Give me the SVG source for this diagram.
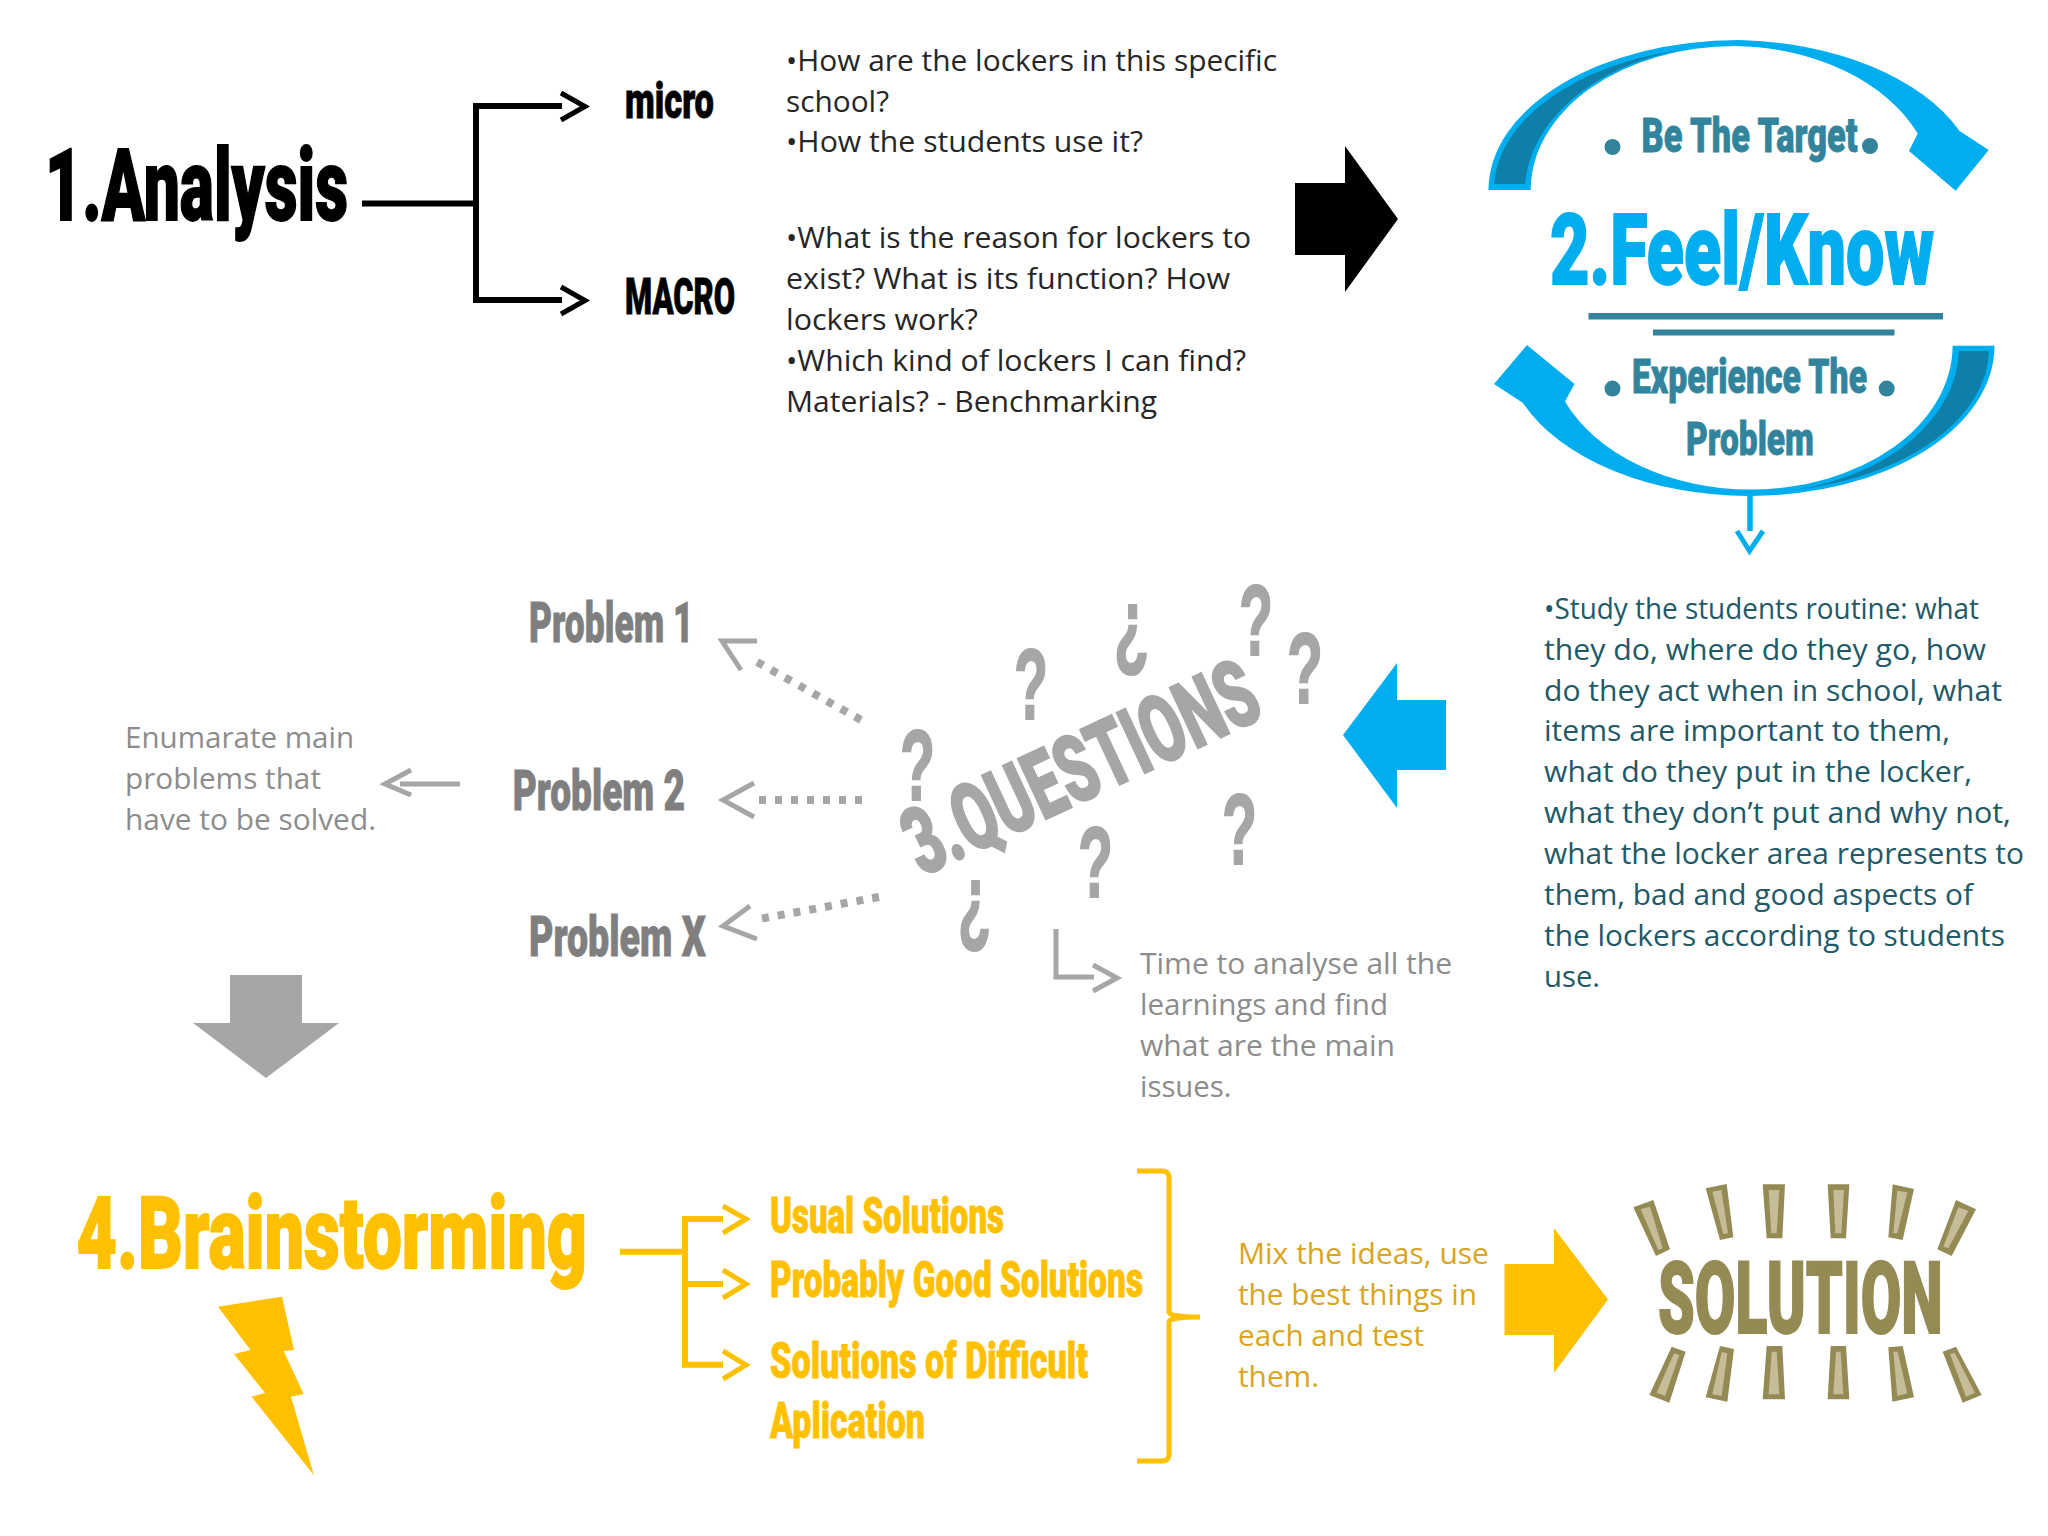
<svg xmlns="http://www.w3.org/2000/svg" width="2048" height="1536" viewBox="0 0 2048 1536">
<style>
.h{font-family:Roboto,Inter,"Liberation Sans",sans-serif;font-weight:900;stroke-width:.8}
.l{stroke-width:1.800}
.m{font-family:"Liberation Sans",Arial,sans-serif;font-weight:700;stroke-width:2}
.b{font-family:"Open Sans","Liberation Sans",sans-serif;font-size:30px}
.k{fill:#000;stroke:#000}.c{fill:#00AEEF;stroke:#00AEEF}.t{fill:#31849B;stroke:#31849B}.g{fill:#7F7F7F;stroke:#7F7F7F}.q{fill:#A6A6A6;stroke:#A6A6A6}.y{fill:#FFC000;stroke:#FFC000}.o{fill:#948A54;stroke:#948A54}
.d{fill:none;stroke:#A6A6A6;stroke-width:8;stroke-dasharray:7 9}
.hd{fill:none;stroke:#A6A6A6;stroke-width:5}
.bar{fill:#948A54}.bi{fill:#C4BD97}
</style>
<rect width="2048" height="1536" fill="#fff"/>

<g id="connectors">
  <g fill="none" stroke="#000">
    <path d="M362 203.500H476" stroke-width="6"/>
    <path d="M562 106H476V300H562" stroke-width="6"/>
    <path d="M561 93L585 106.500L561 120M561 287L585 300.500L561 314" stroke-width="5"/>
  </g>
  <g fill="none" stroke="#00AEEF">
    <path d="M1750 496V531" stroke-width="5.500"/>
    <path d="M1737 531L1749.500 551L1763 531" stroke-width="5"/>
  </g>
  <g>
    <path class="d" d="M861 720L750 658"/>
    <path class="hd" d="M757 641H722L741 670"/>
    <path class="d" d="M862 800H754"/>
    <path class="hd" d="M754 783L723 800L754 817"/>
    <path class="d" d="M879 897L754 920"/>
    <path class="hd" d="M750 906L723 926L757 939"/>
    <path class="hd" d="M460 784H400M411 770L385 784L411 795"/>
    <path class="hd" d="M1056 929V977H1094M1093 965L1117 978L1093 991"/>
  </g>
  <g fill="none" stroke="#FFC000">
    <path d="M620 1251.700H685" stroke-width="6"/>
    <path d="M723 1219H685V1364.700H723M685 1284H723" stroke-width="6"/>
    <path d="M723 1206L746 1219L723 1233M723 1270L746 1284L723 1298M723 1351L746 1365L723 1379" stroke-width="5"/>
    <path d="M1137 1171H1162Q1169 1171 1169 1178V1312Q1169 1317 1200 1317Q1169 1317 1169 1322V1454Q1169 1461 1162 1461H1137" stroke-width="5"/>
  </g>
  <polygon id="arrow-black" points="1295,183 1345,183 1345,146 1398,219 1345,292 1345,255 1295,255" fill="#000"/>
  <polygon id="arrow-blue" points="1446,700 1397,700 1397,663 1343,735 1397,808 1397,770 1446,770" fill="#00AEEF"/>
  <polygon id="arrow-gray" points="230,975 302,975 302,1023 339,1023 266,1078 193,1023 230,1023" fill="#A6A6A6"/>
  <polygon id="arrow-yellow" points="1504.500,1264 1554,1264 1554,1228 1608,1299.500 1554,1373 1554,1335 1504.500,1335" fill="#FFC000"/>
</g>

<g id="analysis">
  <text class="h l k" x="45" y="220" font-size="101" textLength="303" lengthAdjust="spacingAndGlyphs">1.Analysis</text>
</g>
<g id="micro"><text class="h k" x="625" y="118" font-size="50" textLength="89" lengthAdjust="spacingAndGlyphs">micro</text></g>
<g id="macro"><text class="h k" x="625" y="314" font-size="50" textLength="110" lengthAdjust="spacingAndGlyphs">MACRO</text></g>
<g id="analysis-notes" fill="#262626">
  <text class="b" x="786" y="71" textLength="491" lengthAdjust="spacingAndGlyphs">•How are the lockers in this specific</text>
  <text class="b" x="786" y="112" textLength="103" lengthAdjust="spacingAndGlyphs">school?</text>
  <text class="b" x="786" y="152" textLength="357" lengthAdjust="spacingAndGlyphs">•How the students use it?</text>
  <text class="b" x="786" y="248" textLength="465" lengthAdjust="spacingAndGlyphs">•What is the reason for lockers to</text>
  <text class="b" x="786" y="289" textLength="444" lengthAdjust="spacingAndGlyphs">exist? What is its function? How</text>
  <text class="b" x="786" y="330" textLength="192" lengthAdjust="spacingAndGlyphs">lockers work?</text>
  <text class="b" x="786" y="371" textLength="460" lengthAdjust="spacingAndGlyphs">•Which kind of lockers I can find?</text>
  <text class="b" x="786" y="412" textLength="371" lengthAdjust="spacingAndGlyphs">Materials? - Benchmarking</text>
</g>

<g id="feel-know">
  <path fill="#00AEEF" d="M1488.500 190A250 150 0 0 1 1738.500 40A250 150 0 0 1 1959.600 131L1988.700 150L1955.700 190.700L1909 151L1917.700 133.600A204 144 0 0 0 1735 46A204 144 0 0 0 1530.700 190Z"/>
  <path fill="#0E7FA8" d="M1494 184A244 144 0 0 1 1680 50A210 148 0 0 0 1525 184Z"/>
  <path fill="#00AEEF" d="M1994.500 345.700A244.500 150 0 0 1 1750 496A244.500 150 0 0 1 1523 403L1494 384L1527 345L1574.500 384L1565 401.400A202.600 144 0 0 0 1750 489.600A202.600 144 0 0 0 1952.600 345.700Z"/>
  <path fill="#0E7FA8" d="M1989 351A239 144 0 0 1 1797 489.600A209 146 0 0 0 1959 351Z"/>
  <circle cx="1612.500" cy="147" r="8" fill="#31849B"/>
  <circle cx="1870" cy="146" r="8" fill="#31849B"/>
  <circle cx="1612.500" cy="388.600" r="8" fill="#31849B"/>
  <circle cx="1886.700" cy="388.600" r="8" fill="#31849B"/>
  <rect x="1588.500" y="313" width="354.500" height="6.500" fill="#31849B"/>
  <rect x="1653" y="329.500" width="241.500" height="6" fill="#31849B"/>
  <text class="h t" x="1641.600" y="152" font-size="49" textLength="216" lengthAdjust="spacingAndGlyphs">Be The Target</text>
  <text class="h l c" x="1550" y="283.600" font-size="99" textLength="384" lengthAdjust="spacingAndGlyphs">2.Feel/Know</text>
  <text class="h t" x="1632" y="393" font-size="48" textLength="235" lengthAdjust="spacingAndGlyphs">Experience The</text>
  <text class="h t" x="1686" y="455" font-size="47" textLength="128" lengthAdjust="spacingAndGlyphs">Problem</text>
</g>

<g id="feel-notes" fill="#215967">
  <text class="b" x="1544" y="619" textLength="435" lengthAdjust="spacingAndGlyphs">•Study the students routine: what</text>
  <text class="b" x="1544" y="660" textLength="442" lengthAdjust="spacingAndGlyphs">they do, where do they go, how</text>
  <text class="b" x="1544" y="701" textLength="458" lengthAdjust="spacingAndGlyphs">do they act when in school, what</text>
  <text class="b" x="1544" y="741" textLength="406" lengthAdjust="spacingAndGlyphs">items are important to them,</text>
  <text class="b" x="1544" y="782" textLength="428" lengthAdjust="spacingAndGlyphs">what do they put in the locker,</text>
  <text class="b" x="1544" y="823" textLength="467" lengthAdjust="spacingAndGlyphs">what they don’t put and why not,</text>
  <text class="b" x="1544" y="864" textLength="480" lengthAdjust="spacingAndGlyphs">what the locker area represents to</text>
  <text class="b" x="1544" y="905" textLength="429" lengthAdjust="spacingAndGlyphs">them, bad and good aspects of</text>
  <text class="b" x="1544" y="946" textLength="461" lengthAdjust="spacingAndGlyphs">the lockers according to students</text>
  <text class="b" x="1544" y="987" textLength="56" lengthAdjust="spacingAndGlyphs">use.</text>
</g>

<g id="questions">
  <text class="h l q" transform="translate(922 877) rotate(-25)" font-size="94" textLength="380" lengthAdjust="spacingAndGlyphs">3.QUESTIONS</text>
  <g font-size="100">
    <text class="m q" x="1014" y="719" textLength="34" lengthAdjust="spacingAndGlyphs">?</text>
    <text class="m q" x="1114" y="658" textLength="35" lengthAdjust="spacingAndGlyphs">¿</text>
    <text class="m q" x="1239" y="655" textLength="34" lengthAdjust="spacingAndGlyphs">?</text>
    <text class="m q" x="1287" y="703" textLength="36" lengthAdjust="spacingAndGlyphs">?</text>
    <text class="m q" x="900" y="800" textLength="35" lengthAdjust="spacingAndGlyphs">?</text>
    <text class="m q" x="1222" y="864" textLength="35" lengthAdjust="spacingAndGlyphs">?</text>
    <text class="m q" x="1078" y="897" textLength="35" lengthAdjust="spacingAndGlyphs">?</text>
    <text class="m q" x="958" y="934" textLength="33" lengthAdjust="spacingAndGlyphs">¿</text>
  </g>
</g>
<g id="problem-1"><text class="h g" x="529" y="641.700" font-size="55" textLength="164.500" lengthAdjust="spacingAndGlyphs">Problem 1</text></g>
<g id="problem-2"><text class="h g" x="512.700" y="810" font-size="55" textLength="172.300" lengthAdjust="spacingAndGlyphs">Problem 2</text></g>
<g id="problem-x"><text class="h g" x="529" y="955.700" font-size="55" textLength="176.600" lengthAdjust="spacingAndGlyphs">Problem X</text></g>
<g id="enumerate-notes" fill="#8C8C8C">
  <text class="b" x="125" y="748" textLength="229" lengthAdjust="spacingAndGlyphs">Enumarate main</text>
  <text class="b" x="125" y="789" textLength="196" lengthAdjust="spacingAndGlyphs">problems that</text>
  <text class="b" x="125" y="830" textLength="251" lengthAdjust="spacingAndGlyphs">have to be solved.</text>
</g>
<g id="time-notes" fill="#8C8C8C">
  <text class="b" x="1140" y="974" textLength="312" lengthAdjust="spacingAndGlyphs">Time to analyse all the</text>
  <text class="b" x="1140" y="1015" textLength="248" lengthAdjust="spacingAndGlyphs">learnings and find</text>
  <text class="b" x="1140" y="1056" textLength="255" lengthAdjust="spacingAndGlyphs">what are the main</text>
  <text class="b" x="1140" y="1097" textLength="91.500" lengthAdjust="spacingAndGlyphs">issues.</text>
</g>

<g id="brainstorming">
  <text class="h l y" x="76.500" y="1267.700" font-size="101" textLength="510.500" lengthAdjust="spacingAndGlyphs">4.Brainstorming</text>
  <polygon fill="#FFC000" points="218,1306.700 282,1296.700 294,1350 283.700,1351 303.600,1394 291,1396.700 313.800,1475 251.500,1396.700 265,1393 234,1354 250.500,1350"/>
</g>
<g id="usual"><text class="h y" x="770" y="1232.700" font-size="50" textLength="234" lengthAdjust="spacingAndGlyphs">Usual Solutions</text></g>
<g id="probably"><text class="h y" x="770" y="1296.700" font-size="50" textLength="373" lengthAdjust="spacingAndGlyphs">Probably Good Solutions</text></g>
<g id="difficult">
  <text class="h y" x="770" y="1377.700" font-size="50" textLength="318" lengthAdjust="spacingAndGlyphs">Solutions of Difficult</text>
  <text class="h y" x="770" y="1438" font-size="50" textLength="155" lengthAdjust="spacingAndGlyphs">Aplication</text>
</g>
<g id="mix-notes" fill="#D8A51D">
  <text class="b" x="1238" y="1264" textLength="251" lengthAdjust="spacingAndGlyphs">Mix the ideas, use</text>
  <text class="b" x="1238" y="1305" textLength="239" lengthAdjust="spacingAndGlyphs">the best things in</text>
  <text class="b" x="1238" y="1346" textLength="186" lengthAdjust="spacingAndGlyphs">each and test</text>
  <text class="b" x="1238" y="1387" textLength="81" lengthAdjust="spacingAndGlyphs">them.</text>
</g>

<g id="solution">
  <text class="h l o" x="1658" y="1332.700" font-size="101" textLength="284.700" lengthAdjust="spacingAndGlyphs">SOLUTION</text>
  <g transform="translate(1600 1150) scale(.33333)">
    <g class="bar">
      <polygon points="100,172 160,150 210,298 168,318"/><polygon points="317,115 380,102 400,262 360,270"/><polygon points="488,103 555,103 547,265 500,265"/><polygon points="683,103 748,103 738,265 692,265"/><polygon points="878,103 942,117 908,270 865,262"/><polygon points="1068,150 1128,178 1055,318 1012,298"/>
      <polygon points="215,590 257,605 208,758 148,735"/><polygon points="360,588 402,597 382,755 317,742"/><polygon points="500,588 547,588 555,748 488,748"/><polygon points="692,588 738,588 748,748 683,748"/><polygon points="865,592 908,588 942,742 877,755"/><polygon points="1028,605 1068,590 1145,735 1088,758"/>
    </g>
    <g class="bi">
      <polygon points="122,178 150,170 188,295 175,300"/><polygon points="337,125 364,120 384,250 370,252"/><polygon points="506,120 538,120 530,250 514,250"/><polygon points="700,120 732,120 724,250 706,250"/><polygon points="892,122 922,127 892,250 880,250"/><polygon points="1075,172 1105,183 1045,295 1030,290"/>
      <polygon points="222,610 238,615 195,738 170,728"/><polygon points="365,606 382,610 365,738 337,733"/><polygon points="515,605 530,605 538,733 506,733"/><polygon points="708,605 722,605 730,733 700,733"/><polygon points="880,605 893,605 922,730 892,738"/><polygon points="1050,612 1064,608 1125,728 1098,740"/>
    </g>
  </g>
</g>
</svg>
